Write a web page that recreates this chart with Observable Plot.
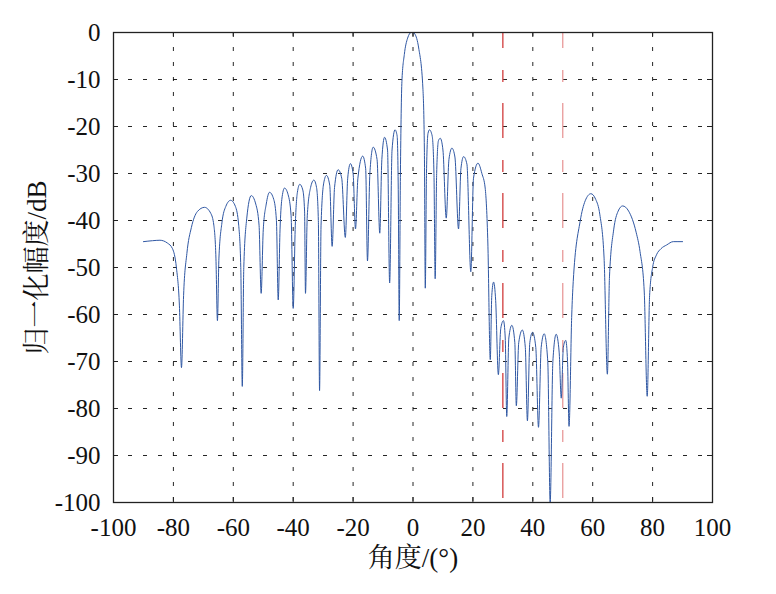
<!DOCTYPE html>
<html>
<head>
<meta charset="utf-8">
<script src="https://cdn.jsdelivr.net/npm/d3@7"></script>
<script src="https://cdn.jsdelivr.net/npm/@observablehq/plot@0.6"></script>
<style>
  html, body { margin: 0; padding: 0; background: #fff; }
  #chart svg { display: block; }
  #chart svg, #chart svg text { font-family: "Liberation Serif", "Noto Serif CJK SC", "Noto Sans CJK SC", serif !important; }
</style>
</head>
<body>
<div id="chart"></div>
<script>
// Angle (degrees) of each traced point of the pattern
const angles = [
  -90, -87, -84.5, -82, -80.3, -79, -78, -77.3, -76.6, -75.5, -74, -72, -69.6, -67.5, -66.5, -65.8,
  -65.3, -64.8, -63.8, -62.5, -60.9, -59.3, -58.2, -57.5, -57, -56.5, -55.5, -54, -52.5, -51.4,
  -50.7, -50, -49, -47.9, -46.5, -45.6, -45, -44.4, -43.8, -42.9, -41.7, -40.7, -40, -39.3, -38.6,
  -37.8, -36.8, -36.2, -35.9, -35.3, -34.2, -33.1, -32.2, -31.6, -31.2, -30.7, -29.8, -28.9, -27.8,
  -27, -26.2, -25, -23.8, -22.6, -21.8, -20.9, -20, -19.2, -18.4, -16.8, -15.8, -15.2, -14.4, -13.3,
  -12, -11.1, -10.4, -9.5, -8.5, -7.8, -7, -6, -5.3, -4.9, -4.6, -4.2, -3.7, -2.9, -1.8, -0.6, 0,
  0.6, 1.9, 3.3, 3.8, 4.1, 4.5, 5, 5.5, 6.4, 7, 7.4, 7.9, 8.5, 9.1, 10, 11.1, 12, 13, 14, 15.2, 16,
  16.9, 18, 19.3, 20.2, 21.7, 23, 24.1, 25, 25.8, 26.3, 26.9, 27.6, 28.5, 29.3, 30.2, 30.8, 31.3, 32,
  33, 34, 34.5, 35.3, 36.5, 37.5, 38.2, 39, 39.9, 41, 41.9, 42.8, 43.8, 45, 45.8, 46.7, 47.8, 48.8,
  49.5, 50.2, 51, 51.6, 52.1, 53, 53.5, 55.8, 57.5, 59.4, 61, 62.4, 63.8, 64.9, 65.6, 67, 68.5, 70,
  72, 74.5, 75.8, 77.2, 78.2, 79, 80, 81.3, 82.8, 84.7, 86.9, 90
];
// Normalized amplitude (dB) at each traced point
const gains = [
  -44.5, -44.3, -44.2, -44.8, -46, -50, -58, -71.3, -56, -47, -41.5, -38.1, -37.2, -38.5, -41, -48,
  -61.3, -48, -40.5, -37, -35.7, -37, -41, -50, -75.3, -50, -39.5, -34.7, -36.5, -41,
  -55.5, -42, -36.5, -34, -35.5, -40, -56.9, -42, -35.5, -33.1, -34.5, -39, -58.7, -41, -34,
  -32.3, -33.5, -38, -55.5, -39, -33, -31.4, -33, -40, -76.2, -41, -32, -30.4, -32.5,
  -45.5, -33, -29.2, -31, -43.6, -31, -27.9, -30, -41.8, -31, -26.3, -29, -48.6, -30, -24.4,
  -27, -42.7, -27, -22.3, -25, -53.3, -25, -20.7, -22, -35, -61.3, -30, -10.4, -4.7, -1.2, 0, 0,
  -0.3, -3.3, -11.8, -25, -54.4, -30, -21.5, -20.7, -22, -30, -52.4, -30, -23, -22.5, -25, -39.5, -27, -24.6, -26.5, -41.8, -29,
  -26.4, -28, -50.9, -31, -27.8, -30, -33.1, -45, -69.6, -56, -53.1, -57, -72.8, -63, -61.3, -65, -81.7, -65,
  -62.3, -66, -79.4, -66, -63.3, -67, -82.6, -66, -63.8, -67, -84, -67, -64.1, -70, -100, -70, -64.2, -68,
  -77.8, -67, -65.5, -70, -83.8, -60.1, -53, -40.2, -35.8, -34.3, -35.5, -38.8, -48, -72.7, -52, -42, -38, -36.9,
  -38, -42.5, -46.6, -55, -77.4, -56, -50, -47.3, -46, -45.2, -44.5, -44.5
];
// Tick values
const xTicks = [-100, -80, -60, -40, -20, 0, 20, 40, 60, 80, 100];
const yTicks = [0, -10, -20, -30, -40, -50, -60, -70, -80, -90, -100];
// Marked angular band edges (degrees)
const bandEdges = [30, 50];
const bandColors = ["#d23c3c", "#e89a9a"];

const pattern = angles.map((a, i) => ({angle: a, gain: gains[i]}));
const bands = bandEdges.map((b, i) => ({angle: b, color: bandColors[i]}));

const serif = "Liberation Serif, Noto Serif CJK SC, Noto Sans CJK SC, serif";
const W = 776, H = 594, ML = 113, MR = 64, MT = 32, MB = 92;
const pw = W - ML - MR, ph = H - MT - MB;

const chart = Plot.plot({
  width: W,
  height: H,
  marginLeft: ML,
  marginRight: MR,
  marginTop: MT,
  marginBottom: MB,
  style: {background: "#fff", color: "#111"},
  x: {domain: [-100, 100]},
  y: {domain: [-100, 0]},
  marks: [
    Plot.gridX(xTicks, {stroke: "#000", strokeOpacity: 0.85, strokeWidth: 1, strokeDasharray: "4,11"}),
    Plot.gridY(yTicks, {stroke: "#000", strokeOpacity: 0.85, strokeWidth: 1, strokeDasharray: "4,11"}),
    Plot.ruleX(xTicks, {stroke: "#222", insetTop: ph - 5}),
    Plot.ruleX(xTicks, {stroke: "#222", insetBottom: ph - 5}),
    Plot.ruleY(yTicks, {stroke: "#222", insetRight: pw - 5}),
    Plot.ruleY(yTicks, {stroke: "#222", insetLeft: pw - 5}),
    Plot.ruleX(bands, {x: "angle", stroke: "color", strokeWidth: 1.3, strokeDasharray: "35,22,12,21", strokeDashoffset: 19}),
    Plot.line(pattern, {x: "angle", y: "gain", stroke: "#2f57a3", strokeWidth: 1, curve: "monotone-x", clip: true}),
    Plot.frame({stroke: "#222", strokeWidth: 1.3}),
    Plot.axisX(xTicks, {tickSize: 0, tickPadding: 16, fontSize: 25, fontFamily: serif, tickFormat: d => String(d), label: null, fill: "#111"}),
    Plot.axisY(yTicks, {tickSize: 0, tickPadding: 13, fontSize: 25, fontFamily: serif, tickFormat: d => String(d), label: null, fill: "#111"}),
    Plot.text(["角度/(°)"], {frameAnchor: "bottom", dy: 56, fontSize: 27, fontFamily: serif, fill: "#111", lineAnchor: "middle"}),
    Plot.text(["归一化幅度/dB"], {frameAnchor: "left", dx: -76, rotate: -90, textAnchor: "middle", fontSize: 27, fontFamily: serif, fill: "#111"})
  ]
});
document.getElementById("chart").appendChild(chart);
</script>
</body>
</html>
